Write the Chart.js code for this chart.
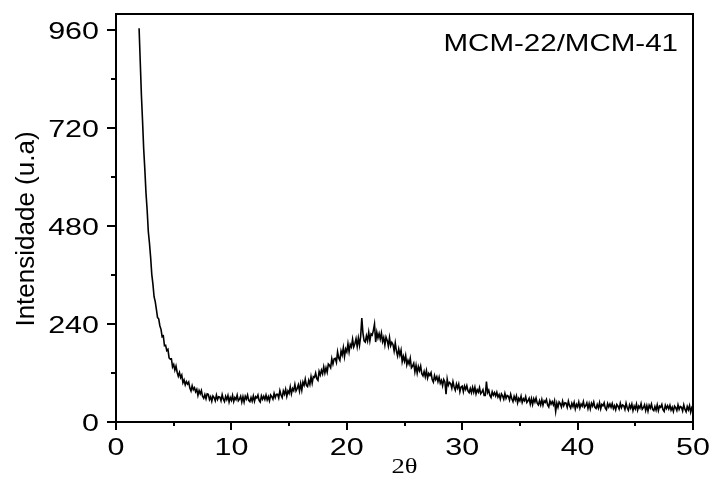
<!DOCTYPE html>
<html>
<head>
<meta charset="utf-8">
<title>MCM-22/MCM-41</title>
<script src="https://cdn.jsdelivr.net/npm/chart.js@4.4.1/dist/chart.umd.min.js"></script>
<style>
  html, body { margin: 0; padding: 0; background: #fff; }
  canvas { display: block; }
</style>
</head>
<body>
<canvas id="grafico" width="712" height="477"></canvas>
<script>
// Difratograma: 2θ de 2 a 50 graus, passo de 0.1
const inicio2Theta = 2;
const passo2Theta = 0.1;

// Intensidade (uma linha = 1 grau)
const intensidade = [
  965, 884, 802, 738, 669, 618, 561, 519, 467, 438,
  404, 362, 338, 307, 295, 276, 256, 253, 236, 227,
  209, 211, 187, 188, 175, 178, 157, 154, 155, 135,
  141, 127, 137, 122, 112, 121, 109, 115, 96, 103,
  91, 99, 93, 98, 83, 76, 89, 79, 84, 74,
  80, 65, 77, 69, 77, 63, 58, 67, 57, 69,
  68, 55, 62, 51, 64, 60, 52, 66, 55, 62,
  61, 52, 67, 56, 50, 63, 55, 65, 49, 60,
  53, 65, 50, 60, 55, 66, 52, 56, 63, 49,
  62, 49, 63, 56, 66, 53, 50, 60, 51, 64,
  51, 62, 59, 66, 53, 49, 64, 56, 63, 55,
  66, 54, 62, 52, 66, 62, 56, 70, 60, 68,
  68, 59, 77, 66, 60, 76, 68, 80, 63, 76,
  70, 86, 69, 82, 77, 92, 76, 82, 91, 76,
  94, 78, 98, 90, 105, 90, 87, 102, 92, 111,
  95, 111, 109, 120, 106, 102, 124, 115, 127, 118,
  135, 120, 133, 122, 142, 139, 133, 155, 142, 155,
  156, 146, 172, 157, 151, 174, 164, 182, 160, 179,
  172, 192, 172, 190, 184, 203, 184, 192, 204, 185,
  206, 188, 210, 255, 218, 199, 196, 211, 199, 220,
  199, 216, 213, 224, 240, 196, 220, 206, 217, 203,
  218, 197, 207, 189, 208, 200, 186, 207, 187, 195,
  190, 174, 194, 174, 162, 179, 164, 176, 148, 161,
  149, 163, 140, 151, 142, 156, 133, 137, 144, 123,
  139, 120, 136, 126, 137, 118, 113, 124, 111, 126,
  108, 119, 114, 121, 104, 98, 114, 104, 111, 99,
  110, 95, 102, 89, 104, 98, 68, 105, 90, 97,
  94, 83, 99, 86, 78, 93, 83, 93, 74, 86,
  88, 74, 88, 80, 89, 76, 72, 82, 72, 85,
  73, 85, 69, 79, 73, 84, 69, 73, 79, 65,
  65, 99, 72, 78, 65, 60, 74, 66, 72, 64,
  73, 61, 67, 56, 69, 64, 56, 70, 58, 65,
  63, 54, 68, 57, 50, 63, 54, 64, 47, 58,
  52, 63, 48, 57, 52, 62, 48, 52, 58, 44,
  57, 43, 57, 49, 59, 46, 42, 52, 42, 55,
  41, 52, 48, 55, 42, 37, 52, 44, 50, 42,
  52, 26, 46, 36, 49, 45, 37, 51, 40, 47,
  46, 36, 51, 40, 34, 46, 38, 48, 32, 43,
  37, 49, 34, 44, 39, 50, 36, 40, 47, 33,
  45, 32, 46, 39, 49, 36, 33, 43, 34, 47,
  32, 43, 40, 47, 34, 30, 45, 37, 44, 36,
  45, 33, 40, 30, 43, 39, 32, 46, 35, 42,
  40, 31, 46, 35, 29, 42, 34, 44, 28, 39,
  32, 44, 29, 39, 34, 45, 31, 35, 42, 28,
  40, 27, 41, 34, 44, 31, 28, 38, 29, 42,
  28, 39, 36, 43, 30, 26, 41, 33, 40, 32,
  41, 29, 36, 26, 39, 35, 28, 42, 31, 38,
  36, 27, 42, 31, 25, 38, 30, 40, 24, 35,
  30
];

const yTicks = [0, 240, 480, 720, 960];
const yMinor = [120, 360, 600, 840];
const xTicks = [0, 10, 20, 30, 40, 50];
const xMinor = [5, 15, 25, 35, 45];

const rotuloAmostra = 'MCM-22/MCM-41';
const tituloY = 'Intensidade (u.a)';
const tituloX = '2θ';

// pares (2θ, intensidade) para a escala linear
const pontos = intensidade.map((v, i) => ({ x: +(inicio2Theta + i * passo2Theta).toFixed(1), y: v }));

const SANS = '"Liberation Sans", Arial, sans-serif';
const SERIF = '"Liberation Serif", "Times New Roman", serif';

// texto esticado na horizontal, como no original
function textoLargo(ctx, txt, x, y, esc, align) {
    ctx.save();
    ctx.translate(x, y);
    ctx.scale(esc, 1);
    ctx.textAlign = align;
    ctx.textBaseline = 'alphabetic';
    ctx.fillText(txt, 0, 0);
    ctx.restore();
}

// Moldura, marcas e rótulos dos eixos
const eixos = {
    id: 'eixos',
    afterDraw(chart) {
        const ctx = chart.ctx;
        const a = chart.chartArea;
        const sx = chart.scales.x;
        const sy = chart.scales.y;

        ctx.save();
        ctx.strokeStyle = '#000';
        ctx.fillStyle = '#000';
        ctx.lineWidth = 2;
        ctx.strokeRect(a.left, a.top, a.right - a.left, a.bottom - a.top);

        ctx.beginPath();
        yTicks.forEach(v => {
            const p = Math.round(sy.getPixelForValue(v));
            ctx.moveTo(a.left - 9, p); ctx.lineTo(a.left, p);
        });
        yMinor.forEach(v => {
            const p = Math.round(sy.getPixelForValue(v));
            ctx.moveTo(a.left - 5, p); ctx.lineTo(a.left, p);
        });
        xTicks.forEach(v => {
            const p = Math.round(sx.getPixelForValue(v));
            ctx.moveTo(p, a.bottom); ctx.lineTo(p, a.bottom + 8);
        });
        xMinor.forEach(v => {
            const p = Math.round(sx.getPixelForValue(v));
            ctx.moveTo(p, a.bottom); ctx.lineTo(p, a.bottom + 4);
        });
        ctx.stroke();

        ctx.font = '24px ' + SANS;
        yTicks.forEach(v => {
            textoLargo(ctx, String(v), a.left - 17, sy.getPixelForValue(v) + 8.6, 1.27, 'right');
        });
        xTicks.forEach(v => {
            textoLargo(ctx, String(v), sx.getPixelForValue(v), a.bottom + 33, 1.27, 'center');
        });

        // legenda da amostra
        textoLargo(ctx, rotuloAmostra, a.right - 15, a.top + 37, 1.23, 'right');

        // título do eixo y
        ctx.save();
        ctx.font = '26px ' + SANS;
        ctx.translate(34, a.top + 215);
        ctx.rotate(-Math.PI / 2);
        ctx.textAlign = 'center';
        ctx.fillText(tituloY, 0, 0);
        ctx.restore();

        // título do eixo x
        ctx.font = '21px ' + SERIF;
        textoLargo(ctx, tituloX, (a.left + a.right) / 2, a.bottom + 51, 1.27, 'center');

        ctx.restore();
    }
};

new Chart(document.getElementById('grafico'), {
    type: 'line',
    data: {
        datasets: [{
            data: pontos,
            borderColor: '#000',
            borderWidth: 1.6,
            pointRadius: 0,
            tension: 0,
            fill: false
        }]
    },
    options: {
        responsive: false,
        animation: false,
        events: [],
        layout: { padding: { top: 14, right: 19, left: 0, bottom: 0 } },
        plugins: {
            legend: { display: false },
            tooltip: { enabled: false }
        },
        scales: {
            x: {
                type: 'linear',
                min: 0,
                max: 50,
                grid: { display: false },
                border: { display: false },
                ticks: { display: false },
                afterFit: s => { s.height = 55; }
            },
            y: {
                min: 0,
                max: 1000,
                grid: { display: false },
                border: { display: false },
                ticks: { display: false },
                afterBuildTicks: s => { s.ticks = yTicks.map(v => ({ value: v })); },
                afterFit: s => { s.width = 116; }
            }
        }
    },
    plugins: [eixos]
});
</script>
</body>
</html>
